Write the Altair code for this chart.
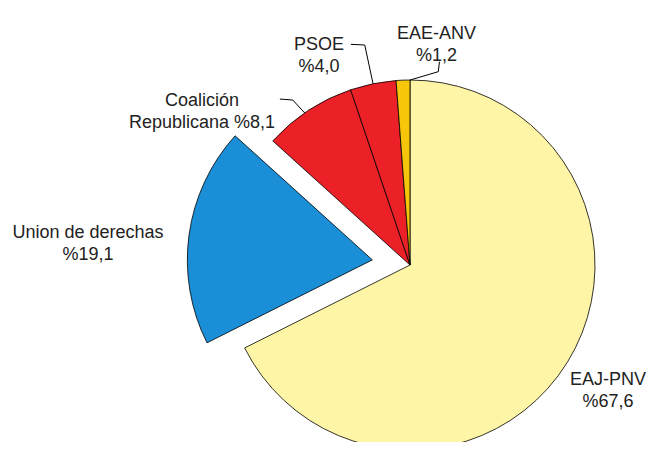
import math
import altair as alt
import pandas as pd

# ---- data -------------------------------------------------------------
parties = ["EAJ-PNV", "Union de derechas", "Coalición Republicana", "PSOE", "EAE-ANV"]
shares = [67.6, 19.1, 8.1, 4.0, 1.2]
label_top = ["EAJ-PNV", "Union de derechas", "Coalición", "PSOE", "EAE-ANV"]
label_bottom = ["%67,6", "%19,1", "Republicana %8,1", "%4,0", "%1,2"]

# ---- styles / layout ----------------------------------------------------
colors = ["#FFF5A6", "#1A8ED6", "#EC2128", "#EC2128", "#F7C50A"]
W, H = 640, 434
CX, CY = 402, 257          # pie centre (chart pixels)
R = 185                    # pie radius
explode = [0, 38, 0, 0, 0]  # exploded slice offset (px)
label_r = [229.0, 323.6, 264.6, 238.4, 232.5]     # label distance from centre
label_dang = [-1.5, -2.0, -18.5, -10.9, 8.7]       # label angle nudge (deg)
# leader lines: (radius, angle nudge in deg) per point
leaders = {
    "Coalición Republicana": [(R, -1.4), (202.4, -2.1), (210.9, -4.8)],
    "PSOE": [(R, 0.0), (224.6, -0.1), (228.5, -3.5)],
    "EAE-ANV": [(R, 2.2), (195.4, 10.5), (205.4, 10.4)],
}

# ---- tables -------------------------------------------------------------
df = pd.DataFrame({"party": parties, "share": shares})
df["end"] = df["share"].cumsum()
df["start"] = df["end"] - df["share"]
df["mid"] = df["start"] + df["share"] / 2
df["explode"] = explode
df["label"] = [a + "\n" + b for a, b in zip(label_top, label_bottom)]
df["lr"] = label_r
df["ldang"] = label_dang

mids = dict(zip(df["party"], df["mid"]))
rows = []
for p, pts in leaders.items():
    for i, (r, d) in enumerate(pts):
        rows.append({"party": p, "step": i, "r": r, "dang": d, "mid": mids[p]})
ldf = pd.DataFrame(rows)

ang = "datum.mid / 100 * 2 * PI"

base = alt.Chart(df)

arcs = base.mark_arc(radius=R, stroke="#000000", strokeWidth=0.8).transform_calculate(
    px=f"{CX} + datum.explode * sin({ang})",
    py=f"{CY} - datum.explode * cos({ang})",
).encode(
    theta=alt.Theta("start:Q", scale=alt.Scale(domain=[0, 100])),
    theta2="end:Q",
    x=alt.X("px:Q", scale=None, axis=None),
    y=alt.Y("py:Q", scale=None, axis=None),
    color=alt.Color("party:N", scale=alt.Scale(domain=parties, range=colors), legend=None),
)

texts = base.mark_text(
    font="Liberation Sans", fontSize=18, lineHeight=22, lineBreak="\n",
    align="center", baseline="middle", color="#222222",
).transform_calculate(
    lx=f"{CX} + datum.lr * sin({ang} + datum.ldang * PI / 180)",
    ly=f"{CY} - datum.lr * cos({ang} + datum.ldang * PI / 180)",
).encode(
    x=alt.X("lx:Q", scale=None, axis=None),
    y=alt.Y("ly:Q", scale=None, axis=None),
    text="label:N",
)

lines = alt.Chart(ldf).mark_line(color="#000000", strokeWidth=1).transform_calculate(
    lx=f"{CX} + datum.r * sin({ang} + datum.dang * PI / 180)",
    ly=f"{CY} - datum.r * cos({ang} + datum.dang * PI / 180)",
).encode(
    x=alt.X("lx:Q", scale=None, axis=None),
    y=alt.Y("ly:Q", scale=None, axis=None),
    detail="party:N",
    order="step:Q",
)

chart = alt.layer(arcs, lines, texts).properties(
    width=W, height=H, padding=0,
    autosize=alt.AutoSizeParams(type="none"),
    background="white",
).configure_view(stroke=None)

chart.save("out.html", embed_options={"renderer": "svg", "actions": False})
